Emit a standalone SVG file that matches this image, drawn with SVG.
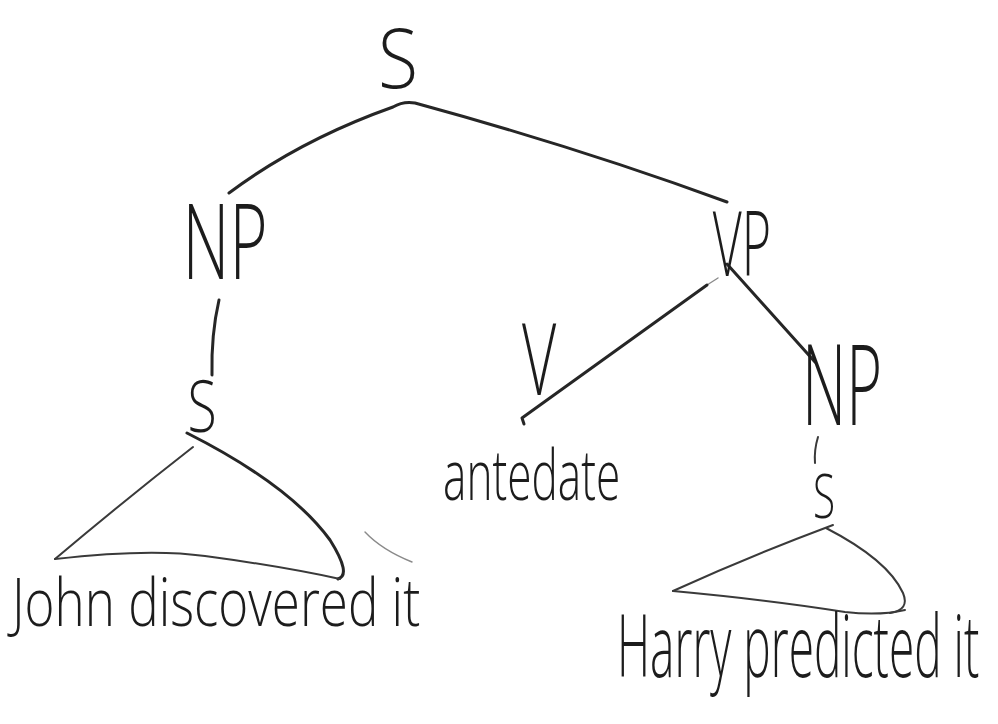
<svg xmlns="http://www.w3.org/2000/svg" width="998" height="724" viewBox="0 0 998 724">
  <style>
    .lbl { font-family: "Open Sans", "Liberation Sans", sans-serif; font-weight: 300; fill: #1c1c1c; }
    .cat { text-anchor: middle; }
    .edge { fill: none; stroke: #262626; stroke-width: 3; stroke-linecap: round; stroke-linejoin: round; }
    .thin { stroke-width: 2; stroke: #3a3a3a; }
    .faint { stroke-width: 1.4; stroke: #8a8a8a; }
  </style>
  <rect width="998" height="724" fill="#ffffff"/>

  <!-- tree branches -->
  <g id="connectors">
    <!-- S to NP and VP -->
    <path class="edge" d="M229,193 Q 300,140 393,107 Q 403,101 415,103 Q 580,148 727,202"/>
    <!-- NP to embedded S -->
    <path class="edge" d="M219,300 Q 211,335 212,375"/>
    <!-- triangle under left S -->
    <path class="edge thin" d="M193,447 Q 125,500 55,559"/>
    <path class="edge" d="M187,433 Q 290,485 330,540 Q 352,575 338,579"/>
    <path class="edge thin" d="M55,559 Q 150,548 205,556 Q 280,566 340,579"/>
    <path class="edge faint" d="M365,532 Q 382,550 412,562"/>
    <!-- VP to V -->
    <path class="edge faint" d="M718,278 L 707,285"/>
    <path class="edge" d="M707,285 L 522,418 L 524,424"/>
    <!-- VP to NP -->
    <path class="edge" d="M727,264 L 815,362"/>
    <!-- NP to embedded S -->
    <path class="edge thin" d="M818,437 Q 814,450 815,463"/>
    <!-- triangle under right S -->
    <path class="edge thin" d="M833,525 Q 750,556 673,591"/>
    <path class="edge thin" d="M826,528 Q 888,560 903,593 Q 910,610 890,613"/>
    <path class="edge thin" d="M673,591 Q 770,600 845,612 Q 880,616 905,610"/>
  </g>

  <!-- labels: narrow handwriting is imitated by a horizontal squeeze -->
  <g id="s-root" transform="translate(398,88) scale(0.89,1)">
    <text class="lbl cat" x="0" y="0" font-size="82" textLength="45" lengthAdjust="spacingAndGlyphs">S</text>
  </g>
  <g id="np-subject" transform="translate(225,279) scale(0.59,1)">
    <text class="lbl cat" x="0" y="0" font-size="105" textLength="144" lengthAdjust="spacingAndGlyphs">NP</text>
  </g>
  <g id="s-subject" transform="translate(202,432) scale(0.73,1)">
    <text class="lbl cat" x="0" y="0" font-size="72" textLength="40" lengthAdjust="spacingAndGlyphs">S</text>
  </g>
  <g id="clause-subject" transform="translate(12,626) scale(0.745,1)">
    <text class="lbl" x="0" y="0" font-size="66" textLength="548" lengthAdjust="spacingAndGlyphs">John discovered it</text>
  </g>
  <g id="vp" transform="translate(742,276) scale(0.53,1)">
    <text class="lbl cat" x="0" y="0" font-size="90" textLength="110" lengthAdjust="spacingAndGlyphs">VP</text>
  </g>
  <g id="v" transform="translate(539,395) scale(0.57,1)">
    <text class="lbl cat" x="0" y="0" font-size="100" textLength="60" lengthAdjust="spacingAndGlyphs">V</text>
  </g>
  <g id="verb" transform="translate(443,500) scale(0.607,1)">
    <text class="lbl" x="0" y="0" font-size="70" textLength="292" lengthAdjust="spacingAndGlyphs">antedate</text>
  </g>
  <g id="np-object" transform="translate(842,425) scale(0.52,1)">
    <text class="lbl cat" x="0" y="0" font-size="112" textLength="154" lengthAdjust="spacingAndGlyphs">NP</text>
  </g>
  <g id="s-object" transform="translate(824,518) scale(0.67,1)">
    <text class="lbl cat" x="0" y="0" font-size="60" textLength="33" lengthAdjust="spacingAndGlyphs">S</text>
  </g>
  <g id="clause-object" transform="translate(617,677) scale(0.514,1)">
    <text class="lbl" x="0" y="0" font-size="86" textLength="705" lengthAdjust="spacingAndGlyphs">Harry predicted it</text>
  </g>
</svg>
